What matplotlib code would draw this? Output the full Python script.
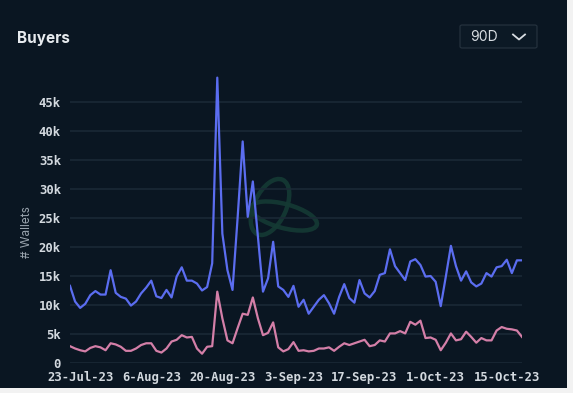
import pandas as pd
import matplotlib
matplotlib.use("Agg")
import matplotlib.pyplot as plt
from matplotlib.patches import Ellipse, Rectangle, FancyBboxPatch
from matplotlib.lines import Line2D

# daily buyers, 90 days
dates = pd.date_range("2023-07-21", periods=90, freq="D")
buyers_all = [13300, 10600, 9500, 10200, 11700, 12400, 11800, 11800, 16000, 12100,
              11400, 11100, 9900, 10600, 12000, 13000, 14200, 11500, 11200, 12600,
              11300, 14900, 16500, 14200, 14200, 13700, 12500, 13100, 17200, 49200,
              22300, 16000, 12600, 25000, 38200, 25200, 31300, 21800, 12300, 14600,
              20900, 13200, 12600, 11400, 13300, 9700, 10900, 8500, 9700, 10900,
              11700, 10300, 8500, 11400, 13600, 11200, 10400, 14300, 12000, 11300,
              12400, 15200, 15500, 19600, 16700, 15500, 14300, 17500, 17900, 16900,
              14900, 15000, 14000, 9800, 14900, 20200, 16700, 14200, 15800, 13900,
              13200, 13700, 15500, 14900, 16500, 16700, 17800, 15500, 17700, 17700]
buyers_other = [2900, 2500, 2200, 2000, 2600, 2900, 2700, 2200, 3400, 3200,
                2800, 2100, 2100, 2500, 3100, 3400, 3400, 2100, 1800, 2500,
                3700, 4000, 4800, 4400, 4500, 2500, 1600, 2800, 2900, 12300,
                7700, 3900, 3400, 6000, 8500, 8300, 11300, 7700, 4800, 5200,
                7000, 2700, 2000, 2400, 3600, 2100, 2200, 2000, 2100, 2500,
                2500, 2700, 2100, 2800, 3400, 3100, 3400, 3700, 4000, 2900,
                3100, 3900, 3700, 5100, 5100, 5500, 5100, 7100, 6600, 7300,
                4300, 4400, 4000, 2200, 3500, 5100, 3900, 4100, 5400, 4500,
                3500, 4300, 3900, 3900, 5600, 6200, 5900, 5800, 5600, 4500]
tick_dates = ["2023-07-23", "2023-08-06", "2023-08-20", "2023-09-03",
              "2023-09-17", "2023-10-01", "2023-10-15"]
tick_labels = ["23-Jul-23", "6-Aug-23", "20-Aug-23", "3-Sep-23",
               "17-Sep-23", "1-Oct-23", "15-Oct-23"]
y_ticks = [0, 5000, 10000, 15000, 20000, 25000, 30000, 35000, 40000, 45000]
y_labels = ["0", "5k", "10k", "15k", "20k", "25k", "30k", "35k", "40k", "45k"]

W, H = 573, 393
bg = "#0a1622"
fig = plt.figure(figsize=(W / 100, H / 100), dpi=100)
fig.patch.set_facecolor("#f2f2f2")
fig.patches.append(Rectangle((0, 1 - 388 / H), 567 / W, 388 / H, transform=fig.transFigure,
                             facecolor=bg, edgecolor="none", zorder=-10))

ax = fig.add_axes([70 / W, 1 - 363 / H, (522 - 70) / W, (363 - 73) / H])
ax.patch.set_alpha(0)

# faint watermark logo
for (cx, cy, w, h, a) in [(270, 207, 32, 60, -25), (284, 216, 68, 24, -15)]:
    fig.patches.append(Ellipse((cx, H - cy), w, h, angle=a, transform=None,
                               facecolor="none", edgecolor="#153a34",
                               linewidth=3.2, alpha=0.9, zorder=-5))

ax.plot(dates, buyers_all, color="#5b6df0", linewidth=1.6, zorder=3)
ax.plot(dates, buyers_other, color="#d47fa8", linewidth=1.6, zorder=3)

ax.set_xlim(dates[0], dates[-1])
ax.set_ylim(0, 50000)
ax.set_yticks(y_ticks)
ax.set_yticklabels(y_labels)
ax.set_xticks(pd.to_datetime(tick_dates))
ax.set_xticklabels(tick_labels)
ax.grid(axis="y", color="#1c2a37", linewidth=1.1)
ax.set_axisbelow(True)
for s in ax.spines.values():
    s.set_visible(False)
ax.tick_params(length=0, colors="#d3d9df", labelsize=8.8)
ax.tick_params(axis="y", pad=6.5)
ax.tick_params(axis="x", pad=6)
for lab in ax.get_xticklabels() + ax.get_yticklabels():
    lab.set_fontfamily("DejaVu Sans Mono")
    lab.set_fontweight("bold")

fig.text(27 / W, 1 - 232 / H, "# Wallets", rotation=90, ha="center", va="center",
         color="#9aa4ae", fontsize=8.5, family="Inter")
fig.text(17 / W, 1 - 38 / H, "Buyers", ha="left", va="center",
         color="#e6eaee", fontsize=11, fontweight="bold", family="Inter")

# period selector
fig.patches.append(FancyBboxPatch((460 / W, 1 - 48 / H), 77 / W, 23 / H,
                                  boxstyle="round,pad=0,rounding_size=0.004",
                                  transform=fig.transFigure, facecolor="#0c1925",
                                  edgecolor="#24313d", linewidth=0.9))
fig.text(470 / W, 1 - 37 / H, "90D", ha="left", va="center",
         color="#d8dde2", fontsize=10, family="Inter")
fig.lines.append(Line2D([513 / W, 519 / W, 525 / W],
                        [1 - 34.5 / H, 1 - 39.5 / H, 1 - 34.5 / H],
                        transform=fig.transFigure, color="#d8dde2", linewidth=1.3))

fig.savefig("out.png", dpi=100, facecolor=fig.get_facecolor())
